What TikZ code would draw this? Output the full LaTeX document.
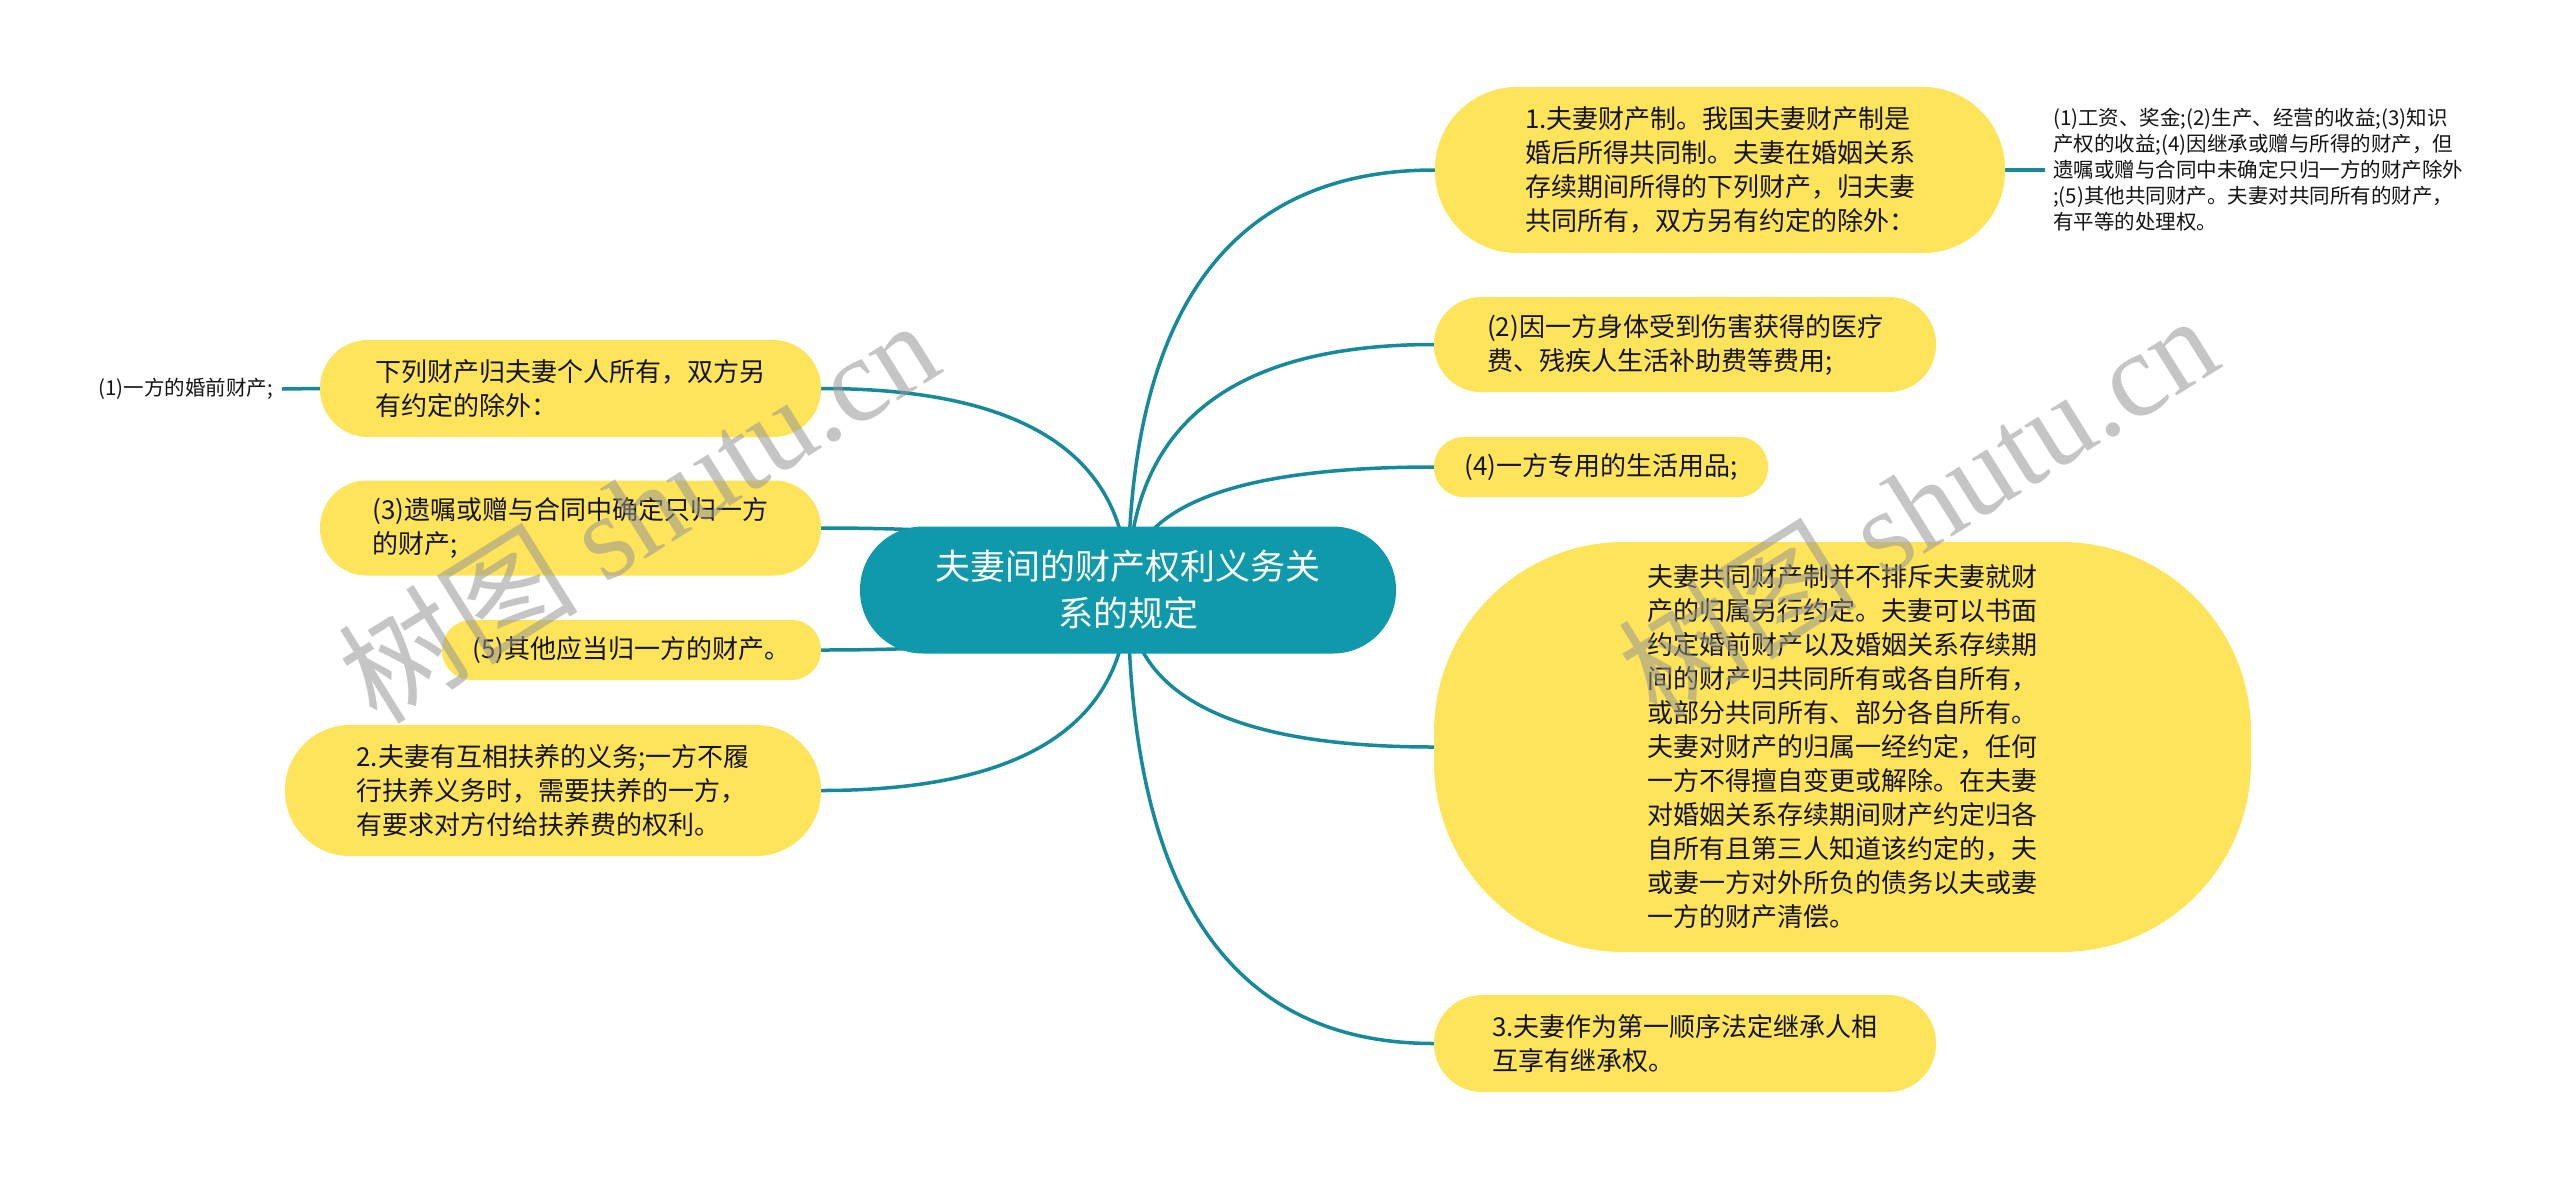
\documentclass[tikz,border=0pt]{standalone}
\usepackage{fontspec}
\setmainfont{Noto Sans CJK SC}
\newfontfamily\wmserif{Liberation Serif}
\usetikzlibrary{calc}
\definecolor{mmteal}{RGB}{16,153,170}
\definecolor{mmline}{RGB}{22,138,154}
\definecolor{mmyellow}{RGB}{254,228,91}
\definecolor{mmtext}{RGB}{20,20,20}
\definecolor{mmwm}{RGB}{150,150,150}
\pgfdeclarelayer{bg}
\pgfdeclarelayer{fg}
\pgfsetlayers{bg,main,fg}
\newcommand\mmlink[2]{%
  \draw[conn] (#1.center) .. controls ($(#1.center)!0.6667!(#1.center|-#2)$) and ($(#2)!0.6667!(#1.center|-#2)$) .. (#2);}
\begin{document}
\begin{tikzpicture}[x=1pt,y=-1pt,
  conn/.style={draw=mmline,line width=3.5pt},
  yb/.style={fill=mmyellow,text=mmtext,inner sep=0pt,align=left,font=\fontsize{26pt}{34pt}\selectfont},
  leaf/.style={text=mmtext,inner ysep=0pt,align=left,font=\fontsize{20.5pt}{26pt}\selectfont},
  root/.style={fill=mmteal,text=white,inner sep=0pt,align=center,font=\fontsize{35pt}{47pt}\selectfont},
  wmark/.style={rotate=32,text=mmwm,text opacity=0.55,inner sep=0pt,font=\fontsize{120pt}{120pt}\selectfont}
]
\useasboundingbox (0,0) rectangle (2560,1179);

% root
\node[root,minimum width=536pt,minimum height=127pt,rounded corners=63pt] (C) at (1128,590)
  {夫妻间的财产权利义务关\\系的规定};

% right side
\node[yb,minimum width=570pt,minimum height=166pt,rounded corners=82pt] (R1) at (1720,170)
  {1.夫妻财产制。我国夫妻财产制是\\婚后所得共同制。夫妻在婚姻关系\\存续期间所得的下列财产，归夫妻\\共同所有，双方另有约定的除外：};
\node[leaf,anchor=west,inner xsep=8pt] (R1c) at (2045,170)
  {(1)工资、奖金;(2)生产、经营的收益;(3)知识\\产权的收益;(4)因继承或赠与所得的财产，但\\遗嘱或赠与合同中未确定只归一方的财产除外\\;(5)其他共同财产。夫妻对共同所有的财产，\\有平等的处理权。};
\node[yb,minimum width=502pt,minimum height=95pt,rounded corners=47pt] (R2) at (1685,344.5)
  {(2)因一方身体受到伤害获得的医疗\\费、残疾人生活补助费等费用;};
\node[yb,minimum width=334pt,minimum height=60pt,rounded corners=29.5pt] (R3) at (1601,467)
  {(4)一方专用的生活用品;};
\node[yb,minimum width=817pt,minimum height=410pt,rounded corners=190pt] (R4) at (1842.5,747)
  {夫妻共同财产制并不排斥夫妻就财\\产的归属另行约定。夫妻可以书面\\约定婚前财产以及婚姻关系存续期\\间的财产归共同所有或各自所有，\\或部分共同所有、部分各自所有。\\夫妻对财产的归属一经约定，任何\\一方不得擅自变更或解除。在夫妻\\对婚姻关系存续期间财产约定归各\\自所有且第三人知道该约定的，夫\\或妻一方对外所负的债务以夫或妻\\一方的财产清偿。};
\node[yb,minimum width=502pt,minimum height=97pt,rounded corners=48pt] (R5) at (1685,1043.5)
  {3.夫妻作为第一顺序法定继承人相\\互享有继承权。};

% left side
\node[yb,minimum width=501pt,minimum height=97pt,rounded corners=48pt] (L1) at (570.5,388.5)
  {下列财产归夫妻个人所有，双方另\\有约定的除外：};
\node[leaf,anchor=east,inner xsep=9pt] (L1c) at (282,389)
  {(1)一方的婚前财产;};
\node[yb,minimum width=501pt,minimum height=95pt,rounded corners=47pt] (L2) at (570.5,528)
  {(3)遗嘱或赠与合同中确定只归一方\\的财产;};
\node[yb,minimum width=379pt,minimum height=60pt,rounded corners=29.5pt] (L3) at (631.5,650)
  {(5)其他应当归一方的财产。};
\node[yb,minimum width=536pt,minimum height=131pt,rounded corners=65pt] (L4) at (553,790.5)
  {2.夫妻有互相扶养的义务;一方不履\\行扶养义务时，需要扶养的一方，\\有要求对方付给扶养费的权利。};

% background and connectors
\begin{pgfonlayer}{bg}
  \fill[white] (0,0) rectangle (2560,1179);
  \mmlink{C}{R1.west}
  \mmlink{C}{R2.west}
  \mmlink{C}{R3.west}
  \mmlink{C}{R4.west}
  \mmlink{C}{R5.west}
  \mmlink{C}{L1.east}
  \mmlink{C}{L2.east}
  \mmlink{C}{L3.east}
  \mmlink{C}{L4.east}
  \draw[conn] (R1.east) -- (R1c.west);
  \draw[conn] (L1.west) -- (L1c.east);
\end{pgfonlayer}

% watermarks
\begin{pgfonlayer}{fg}
  \node[wmark] (wm1) at (638,510) {树图 {\wmserif shutu.cn}};
  \node[wmark] (wm2) at (1917,505) {树图 {\wmserif shutu.cn}};
\end{pgfonlayer}
\end{tikzpicture}
\end{document}
